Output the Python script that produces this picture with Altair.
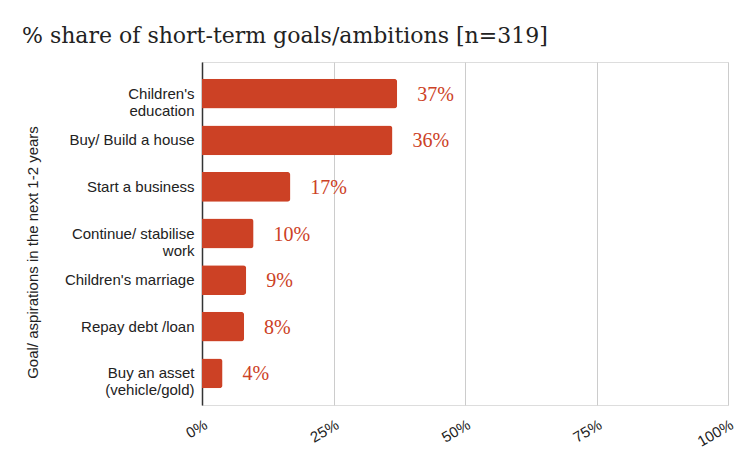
import altair as alt
import pandas as pd

goals = [
    "Children's\neducation",
    "Buy/ Build a house",
    "Start a business",
    "Continue/ stabilise\nwork",
    "Children's marriage",
    "Repay debt /loan",
    "Buy an asset\n(vehicle/gold)",
]
shares = [37.1, 36.2, 16.8, 9.8, 8.4, 8.0, 3.9]
labels = ["37%", "36%", "17%", "10%", "9%", "8%", "4%"]
x_ticks = [0, 25, 50, 75, 100]

df = pd.DataFrame({"goal": goals, "share": shares, "label": labels})

RED = "#cc4125"

y_enc = alt.Y(
    "goal:N",
    sort=goals,
    scale=alt.Scale(paddingInner=0.36, paddingOuter=0.36),
    axis=alt.Axis(
        title="Goal/ aspirations in the next 1-2 years",
        titleFont="Liberation Sans",
        titleFontSize=15,
        titleFontWeight="normal",
        titleColor="#222222",
        titleAngle=270,
        titleX=-170,
        titleY=190,
        titleAlign="center",
        titleBaseline="middle",
        labelExpr="split(datum.label, '\\n')",
        labelFont="Liberation Sans",
        labelFontSize=15,
        labelColor="#222222",
        labelPadding=8,
        labelLineHeight=17,
        ticks=False,
        domain=True,
        domainColor="#333333",
        domainWidth=1.5,
        grid=False,
    ),
)

x_enc = alt.X(
    "share:Q",
    scale=alt.Scale(domain=[0, 100], nice=False),
    axis=alt.Axis(
        title=None,
        values=x_ticks,
        labelExpr="datum.value + '%'",
        labelFont="Liberation Sans",
        labelFontSize=15,
        labelColor="#222222",
        labelAngle=330,
        labelAlign="right",
        labelBaseline="top",
        labelPadding=12,
        ticks=False,
        domain=False,
        grid=True,
        gridColor="#cccccc",
        gridWidth=1,
    ),
)

bars = alt.Chart(df).mark_bar(color=RED, cornerRadiusEnd=3).encode(x=x_enc, y=y_enc)

text = alt.Chart(df).mark_text(
    align="left", baseline="middle", dx=20, dy=1,
    font="Liberation Serif", fontSize=20, color=RED,
).encode(
    x=alt.X("share:Q"),
    y=alt.Y("goal:N", sort=goals),
    text="label:N",
)

chart = (bars + text).properties(
    width=526,
    height=343,
    autosize=alt.AutoSizeParams(type="none"),
    padding={"left": 194, "top": 54, "right": 14, "bottom": 50},
    title=alt.TitleParams(
        text="% share of short-term goals/ambitions [n=319]",
        anchor="start",
        frame="group",
        dx=-180,
        offset=14,
        font="DejaVu Serif",
        fontSize=22,
        fontWeight="normal",
        color="#222222",
    ),
).configure_view(stroke=None).configure(background="white")

chart.save("out.html", embed_options={"renderer": "svg", "actions": False})
